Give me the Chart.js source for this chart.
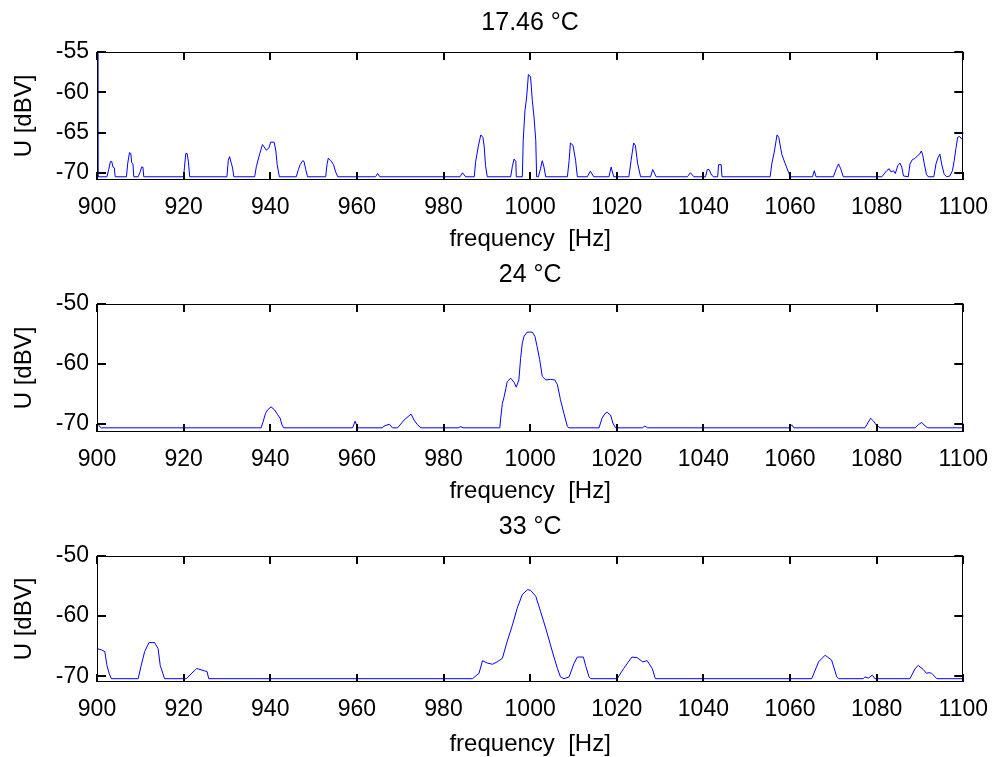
<!DOCTYPE html>
<html>
<head>
<meta charset="utf-8">
<title>Spectra at three temperatures</title>
<script src="https://cdn.jsdelivr.net/npm/chart.js@4.4.1/dist/chart.umd.min.js"></script>
<style>
    html, body { margin: 0; padding: 0; background: #fff; }
    #wrap { position: relative; width: 1002px; height: 757px; overflow: hidden; }
    #wrap canvas { position: absolute; left: 0; }
</style>
</head>
<body>
<div id="wrap">
    <canvas id="c1" width="1002" height="252" style="top:0px"></canvas>
    <canvas id="c2" width="1002" height="252" style="top:252px"></canvas>
    <canvas id="c3" width="1002" height="253" style="top:504px"></canvas>
</div>
<script>
// ── Data ──
const xTicks = [900, 920, 940, 960, 980, 1000, 1020, 1040, 1060, 1080, 1100];
const titles = ['17.46 °C', '24 °C', '33 °C'];

const yTicks1 = [-70, -65, -60, -55];
const yTicks2 = [-70, -60, -50];
const yTicks3 = [-70, -60, -50];
const yRange1 = [-70.9, -55];
const yRange2 = [-71.4, -50];
const yRange3 = [-70.95, -50];

// 17.46 °C
const freq1 = [
    900, 900.2, 902.3, 902.7, 903.1, 903.4, 903.7, 904.0, 904.2,
    906.8, 907.1, 907.5, 907.8, 908.0, 908.3, 908.5,
    909.5, 909.9, 910.3, 910.6, 910.8,
    920.0, 920.2, 920.5, 920.8, 921.1, 921.4,
    930.0, 930.3, 930.6, 931.0, 931.3, 931.6,
    936.4, 936.8, 937.6, 938.2, 938.6, 939.1, 939.7, 940.1, 940.9, 941.3, 941.6, 942.1,
    946.0, 946.5, 946.9, 947.5, 947.8, 948.2, 948.6,
    952.8, 953.1, 953.4, 954.0, 954.6, 955.1, 955.6,
    964.3, 964.8, 965.3,
    983.8, 984.4, 985.1,
    987.1, 987.4, 988.0, 988.6, 989.1, 989.4, 989.7, 990.1,
    995.5, 995.9, 996.3, 996.7, 996.8,
    998.2, 998.4, 998.8, 999.2, 999.6, 1000.1, 1000.5, 1000.9, 1001.3, 1001.5,
    1001.9, 1002.4, 1002.8, 1003.2, 1003.6,
    1008.6, 1009.0, 1009.3, 1009.9, 1010.5, 1010.9,
    1013.2, 1013.9, 1014.7,
    1018.2, 1018.7, 1019.3,
    1022.8, 1023.3, 1023.9, 1024.3, 1024.8, 1025.5,
    1027.8, 1028.3, 1029.1,
    1036.3, 1037.0, 1037.8,
    1040.5, 1040.9, 1041.3, 1041.9, 1042.4,
    1043.3, 1043.5, 1044.1, 1044.3,
    1055.4, 1055.8, 1056.4, 1057.0, 1057.4, 1058.1, 1058.9, 1059.7, 1060.1,
    1065.2, 1065.6, 1066.0,
    1070.0, 1070.7, 1071.2, 1071.7, 1072.3,
    1081.2, 1082.3, 1082.9, 1083.3, 1083.9, 1084.3, 1084.9, 1085.4, 1085.8, 1086.2, 1087.3,
    1087.7, 1088.2, 1088.9, 1089.4, 1089.9, 1090.3, 1090.6, 1091.0, 1091.5, 1091.9,
    1093.2, 1093.7, 1094.2, 1094.6, 1095.0, 1095.6, 1096.2,
    1096.9, 1097.5, 1097.9, 1098.3, 1098.7, 1099.2, 1099.6, 1100
];
const u1 = [
    -50, -70.5, -70.5, -69.6, -68.6, -68.6, -69.3, -69.4, -70.5,
    -70.5, -68.8, -67.5, -67.6, -68.7, -68.9, -70.5,
    -70.5, -70.0, -69.3, -69.3, -70.5,
    -70.5, -69.3, -67.6, -67.6, -68.6, -70.5,
    -70.5, -68.5, -68.0, -68.8, -69.4, -70.5,
    -70.5, -69.2, -67.6, -66.5, -66.8, -67.2, -66.9, -66.2, -66.2, -67.3, -69.0, -70.5,
    -70.5, -69.6, -69.0, -68.5, -68.6, -69.6, -70.5,
    -70.5, -69.0, -68.2, -68.5, -69.0, -69.9, -70.5,
    -70.5, -70.1, -70.5,
    -70.5, -70.0, -70.5,
    -70.5, -68.7, -66.8, -65.3, -65.6, -66.8, -69.1, -70.5,
    -70.5, -69.2, -68.3, -68.6, -70.5,
    -70.5, -66.0, -62.3, -60.6, -57.8, -58.1, -61.0, -63.1, -66.0, -70.5,
    -70.5, -69.5, -68.5, -69.3, -70.5,
    -70.5, -68.5, -66.3, -66.6, -68.5, -70.5,
    -70.5, -69.8, -70.5,
    -70.5, -69.3, -70.5,
    -70.5, -68.5, -66.3, -66.6, -68.8, -70.5,
    -70.5, -69.6, -70.5,
    -70.5, -70.0, -70.5,
    -70.5, -69.6, -69.6, -70.3, -70.5,
    -70.5, -69.0, -69.0, -70.5,
    -70.5, -68.9, -67.3, -65.3, -65.6, -67.7, -68.9, -70.0, -70.5,
    -70.5, -69.75, -70.5,
    -70.5, -69.5, -68.9, -69.5, -70.5,
    -70.5, -69.75, -69.5, -69.9, -69.75, -70.1, -69.1, -68.8, -69.3, -70.4, -70.5,
    -68.9, -68.4, -68.2, -67.9, -67.7, -67.3, -67.7, -68.9, -70.2, -70.5,
    -70.5, -68.9, -68.1, -67.7, -68.9, -70.2, -70.5,
    -70.4, -69.75, -68.5, -67.0, -65.6, -65.5, -65.8, -65.8
];

// 24 °C
const freq2 = [
    900, 900.6, 901.0,
    937.9, 938.3, 938.9, 939.4, 940.2, 941.0, 941.7, 942.3, 942.7, 943.1,
    959.0, 959.6, 960.2,
    965.9, 966.3, 967.5, 968.2,
    969.4, 970.9, 972.5, 973.2, 974.0, 974.8,
    983.4, 984.0, 984.5,
    993.0, 993.2, 993.6, 994.0, 994.4, 994.7, 995.5, 996.3, 996.8, 997.4, 997.8, 998.2, 998.6, 999.3,
    1000.5, 1001.1, 1001.6, 1002.2, 1002.8, 1003.6, 1004.7, 1005.7, 1006.3, 1007.0, 1007.8, 1008.6, 1009.0,
    1015.9, 1016.6, 1017.3, 1017.8, 1018.6, 1019.1, 1019.7,
    1025.9, 1026.5, 1027.1,
    1059.8, 1060.4, 1060.9,
    1077.3, 1078.6, 1079.3, 1080.0, 1080.8,
    1088.9, 1089.6, 1090.4, 1091.2, 1091.8, 1100
];
const u2 = [
    -69.6, -70.5, -70.7,
    -70.7, -69.8, -68.3, -67.7, -67.2, -67.7, -68.5, -69.1, -70.2, -70.7,
    -70.7, -69.6, -70.7,
    -70.7, -70.4, -70.1, -70.7,
    -70.7, -69.4, -68.4, -69.4, -70.2, -70.7,
    -70.7, -70.5, -70.7,
    -70.7, -69.1, -66.6, -65.5, -64.1, -63.0, -62.4, -63.1, -63.9, -62.7, -59.1, -56.5, -55.4, -54.7,
    -54.7, -55.4, -57.1, -59.3, -62.1, -62.7, -62.6, -62.7, -63.5, -66.0, -68.3, -70.5, -70.7,
    -70.7, -69.1, -68.3, -68.1, -68.6, -69.9, -70.7,
    -70.7, -70.4, -70.7,
    -70.7, -70.2, -70.7,
    -70.7, -69.1, -69.6, -70.3, -70.7,
    -70.7, -70.2, -69.8, -70.4, -70.7, -70.7
];

// 33 °C
const freq3 = [
    900, 901.0, 901.8, 902.3, 902.8, 903.3,
    909.5, 910.2, 911.0, 912.0, 913.3, 914.1, 914.6, 915.6,
    920.6, 923.0, 924.8, 925.4, 925.8,
    986.7, 988.2, 989.0, 990.1, 991.3, 992.4, 993.6, 994.7, 995.9, 997.0, 998.2, 999.4, 1000.1,
    1001.3, 1002.4, 1003.6, 1004.7, 1005.5, 1006.3, 1007.0, 1007.8, 1009.0, 1010.1, 1010.9,
    1012.3, 1012.8, 1013.6, 1014.0,
    1020.1, 1021.6, 1023.5, 1024.7, 1026.0, 1027.0, 1028.2, 1028.9,
    1065.0, 1066.6, 1068.1, 1069.6, 1070.8, 1071.2,
    1076.9, 1077.3, 1078.1, 1079.0, 1079.6,
    1087.7, 1088.9, 1089.6, 1090.8, 1091.5, 1092.1, 1092.7, 1093.9, 1100
];
const u3 = [
    -65.4, -65.6, -65.9, -68.2, -69.5, -70.4,
    -70.4, -68.2, -65.9, -64.4, -64.4, -65.4, -68.2, -70.4,
    -70.4, -68.7, -69.1, -69.2, -70.4,
    -70.4, -69.5, -67.4, -67.8, -68.0, -67.6, -67.0, -64.2, -61.5, -58.7, -56.4, -55.6, -55.7,
    -56.7, -59.2, -62.0, -64.8, -66.8, -68.7, -70.1, -70.4, -70.1, -67.9, -66.8,
    -66.8, -68.2, -70.1, -70.4,
    -70.4, -68.7, -66.8, -66.9, -67.6, -67.4, -68.7, -70.4,
    -70.4, -67.6, -66.5, -67.3, -70.1, -70.4,
    -70.4, -70.1, -70.3, -69.8, -70.4,
    -70.4, -68.7, -68.2, -68.9, -69.5, -69.4, -69.5, -70.4, -70.4
];

const FONT = "'Liberation Sans', Arial, Helvetica, sans-serif";

// ── Box with inward tick marks on all four sides ──
function boxTicks(yTicks) {
    return {
        id: 'boxTicks',
        afterDraw(chart) {
            const { ctx, chartArea: a } = chart;
            const xs = chart.scales.x;
            const ys = chart.scales.y;
            ctx.save();
            ctx.strokeStyle = '#000';
            ctx.lineWidth = 2;
            ctx.beginPath();
            xTicks.forEach(v => {
                const p = Math.round(xs.getPixelForValue(v));
                ctx.moveTo(p, a.bottom);
                ctx.lineTo(p, a.bottom - 8);
                ctx.moveTo(p, a.top);
                ctx.lineTo(p, a.top + 8);
            });
            yTicks.forEach(v => {
                const p = Math.round(ys.getPixelForValue(v));
                ctx.moveTo(a.left, p);
                ctx.lineTo(a.left + 9, p);
                ctx.moveTo(a.right, p);
                ctx.lineTo(a.right - 9, p);
            });
            ctx.stroke();
            ctx.lineWidth = 1;
            ctx.strokeRect(Math.round(a.left) + 0.5, Math.round(a.top) + 0.5,
                Math.round(a.width) - 1, Math.round(a.height) - 1);
            ctx.restore();
        }
    };
}

function makeSpectrum(canvasId, title, freq, u, yRange, yTicks, xAxisHeight) {
    const canvas = document.getElementById(canvasId);
    return new Chart(canvas, {
        type: 'line',
        data: {
            datasets: [{
                data: freq.map((f, i) => ({ x: f, y: u[i] })),
                borderColor: '#0000ff',
                borderWidth: 1,
                pointRadius: 0,
                tension: 0,
                fill: false,
            }],
        },
        options: {
            responsive: false,
            animation: false,
            events: [],
            layout: { padding: { left: 0, right: 37, top: 0, bottom: 0 } },
            plugins: {
                legend: { display: false },
                tooltip: { enabled: false },
                title: {
                    display: true,
                    text: title,
                    color: '#000',
                    fullSize: false,
                    font: { family: FONT, size: 25, weight: 'normal', lineHeight: 1.2 },
                    padding: { top: 8, bottom: 14 },
                },
            },
            scales: {
                x: {
                    type: 'linear',
                    min: 900,
                    max: 1100,
                    grid: { display: false, drawTicks: false },
                    border: { display: false },
                    afterBuildTicks: s => { s.ticks = xTicks.map(v => ({ value: v })); },
                    afterFit: s => { s.height = xAxisHeight; },
                    ticks: {
                        color: '#000',
                        autoSkip: false,
                        maxRotation: 0,
                        padding: 14,
                        font: { family: FONT, size: 23 },
                        callback: v => String(v),
                    },
                    title: {
                        display: true,
                        text: 'frequency  [Hz]',
                        color: '#000',
                        font: { family: FONT, size: 24, lineHeight: 1 },
                        padding: { top: 0, bottom: 1 },
                    },
                },
                y: {
                    type: 'linear',
                    min: yRange[0],
                    max: yRange[1],
                    grid: { display: false, drawTicks: false },
                    border: { display: false },
                    afterBuildTicks: s => { s.ticks = yTicks.map(v => ({ value: v })); },
                    afterFit: s => { s.width = 97; },
                    ticks: {
                        color: '#000',
                        padding: 8,
                        font: { family: FONT, size: 23 },
                        callback: v => String(v),
                    },
                    title: {
                        display: true,
                        text: 'U [dBV]',
                        color: '#000',
                        font: { family: FONT, size: 24, lineHeight: 1 },
                        padding: { top: 12, bottom: 0 },
                    },
                },
            },
        },
        plugins: [boxTicks(yTicks)],
    });
}

makeSpectrum('c1', titles[0], freq1, u1, yRange1, yTicks1, 72);
makeSpectrum('c2', titles[1], freq2, u2, yRange2, yTicks2, 72);
makeSpectrum('c3', titles[2], freq3, u3, yRange3, yTicks3, 75);
</script>
</body>
</html>
